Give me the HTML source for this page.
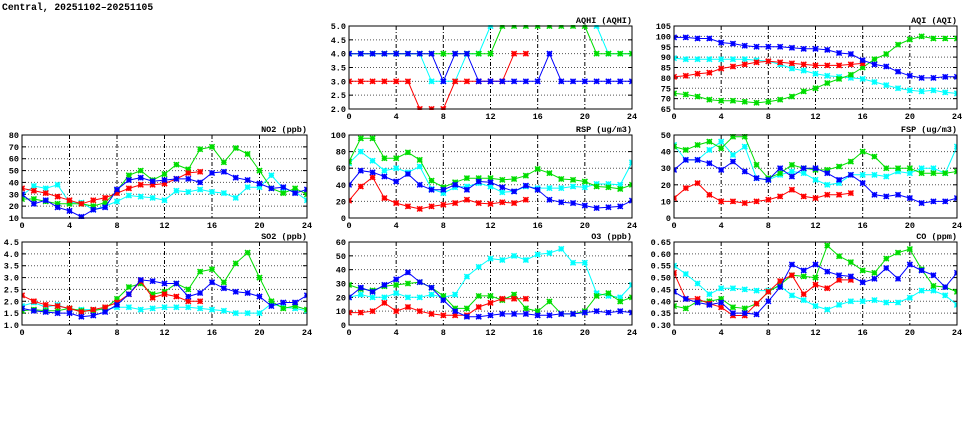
<!DOCTYPE html>
<html><head><meta charset="utf-8">
<style>
html,body{margin:0;padding:0;background:#fff;}
svg{display:block;}
text{font-family:"Liberation Mono",monospace;font-weight:bold;font-size:8.5px;fill:#000;}
</style></head>
<body>
<svg id="s" width="975" height="447" viewBox="0 0 975 447" xmlns="http://www.w3.org/2000/svg">
<text x="2" y="10" style="font-size:9.7px">Central, 20251102–20251105</text>
</svg>
<script>
const S=document.getElementById('s');const NS='http://www.w3.org/2000/svg';
function el(t,a,txt){const e=document.createElementNS(NS,t);for(const k in a)e.setAttribute(k,a[k]);if(txt!==undefined)e.textContent=txt;S.appendChild(e);return e;}
const cols=[[22,307],[349,632],[674,957]],rows=[[26,109],[135,218],[242,325]];
const C={c:'#00ffff',g:'#00dd00',r:'#ff0000',b:'#0000ff'};
const P=[
{col:1,row:0,t:'AQHI (AQHI)',min:2,max:5,step:.5,dec:1,
 c:[4,4,4,4,4,4,4,3,3,3,4,4,5,6,6,6,6,6,6,6,6,5,4,4,4],
 g:[4,4,4,4,4,4,4,4,4,4,4,4,4,5,5,5,5,5,5,5,5,4,4,4,4],
 r:[3,3,3,3,3,3,2,2,2,3,3,3,3,3,4,4],
 b:[4,4,4,4,4,4,4,4,3,4,4,3,3,3,3,3,3,4,3,3,3,3,3,3,3]},
{col:2,row:0,t:'AQI (AQI)',min:65,max:105,step:5,dec:0,
 c:[89.5,89,89,89,89,89,89,88.5,88,86.5,84.5,83.5,82,81,80.5,80,79.5,78,76.5,75,74,73.5,74,73,72.5],
 g:[72.5,72,71,69.5,69,69,68.5,68,68.5,69.5,71,73.5,75,77.5,79.5,81.5,85,89,91.5,96,98.5,100,99,99,99],
 r:[80.5,81,82,82.5,84.5,85.5,86.5,87.5,88,87.5,87,86.5,86,86,86,86.5,87],
 b:[99.5,99.5,99,99,97,96.5,95.5,95,95,95,94.5,94,94,93.5,92,91.5,88.5,86.5,85.5,83,81,80,80,80.5,80.5]},
{col:0,row:1,t:'NO2 (ppb)',min:10,max:80,step:10,dec:0,
 c:[29,37,35,38,23,23,17,20,24,29,28,27,25,33,32,34,32,31,27,36,36,46,35,32,25],
 g:[26,26,24,22,22,22,20,23,33,46,50,42,47,55,51,68,70,57,69,64,50,35,31,35,30],
 r:[35,33,31,28,25,22,25,27,31,35,38,38,39,43,48,49],
 b:[30,22,25,19,16,11,17,19,34,42,44,41,42,43,43,40,48,49,44,42,39,35,36,31,34]},
{col:1,row:1,t:'RSP (ug/m3)',min:0,max:100,step:20,dec:0,
 c:[66,80,69,57,60,55,62,35,30,37,38,42,38,31,32,38,36,36,36,38,37,41,41,40,67],
 g:[68,96,96,72,72,79,70,45,37,43,48,48,48,46,47,51,59,54,47,46,44,38,37,35,40],
 r:[21,38,49,24,18,14,11,14,16,18,22,18,17,19,18,22],
 b:[40,57,55,50,44,53,40,34,34,40,34,44,43,37,32,39,34,22,19,18,15,12,13,14,21]},
{col:2,row:1,t:'FSP (ug/m3)',min:0,max:50,step:10,dec:0,
 c:[44,35,35,41,46,38,43,24,23,26,28,27,23,20,21,26,26,26,25,28,27,30,30,27,43],
 g:[43,41,44,46,42,49,49,32,24,27,32,30,29,29,31,34,40,37,30,30,30,27,27,27,28],
 r:[12,18,21,14,10,10,9,10,11,13,17,13,12,14,14,15],
 b:[29,35,35,33,29,34,28,24,23,30,25,30,30,27,23,26,21,14,13,14,12,9,10,10,12]},
{col:0,row:2,t:'SO2 (ppb)',min:1,max:4.5,step:.5,dec:1,
 c:[1.8,1.95,1.75,1.85,1.65,1.65,1.65,1.65,1.75,1.75,1.65,1.7,1.75,1.75,1.75,1.7,1.65,1.6,1.5,1.5,1.5,1.9,1.75,1.7,1.6],
 g:[1.6,1.65,1.6,1.6,1.7,1.6,1.6,1.7,2.1,2.6,2.75,2.3,2.4,2.75,2.5,3.25,3.35,2.8,3.6,4.05,3.0,2.0,1.7,1.8,1.65],
 r:[2.25,2.0,1.85,1.8,1.7,1.55,1.65,1.75,1.95,2.3,2.85,2.15,2.3,2.2,2.0,2.0],
 b:[1.7,1.6,1.55,1.5,1.5,1.35,1.4,1.55,1.85,2.3,2.9,2.85,2.75,2.75,2.2,2.35,2.8,2.55,2.4,2.35,2.2,1.8,1.95,1.95,2.25]},
{col:1,row:2,t:'O3 (ppb)',min:0,max:60,step:10,dec:0,
 c:[20,22,20,20,23,20,20,22,20,22,35,42,48,47,50,47,51,52,55,45,45,23,21,20,29],
 g:[29,26,25,28,29,30,31,27,21,12,12,21,21,18,22,12,10,17,8,8,10,21,23,17,20],
 r:[9,9,10,16,10,13,10,8,7,7,7,13,16,19,19,19],
 b:[20,27,24,29,33,38,31,27,18,10,6,6,7,8,8,8,7,7,8,8,9,10,9,10,9]},
{col:2,row:2,t:'CO (ppm)',min:.3,max:.65,step:.05,dec:2,
 c:[.55,.515,.475,.43,.455,.455,.45,.445,.445,.465,.425,.405,.38,.365,.385,.40,.40,.405,.395,.395,.415,.445,.445,.425,.385],
 g:[.38,.37,.40,.40,.41,.375,.37,.39,.44,.47,.51,.505,.50,.635,.59,.565,.53,.52,.58,.605,.62,.535,.465,.46,.44],
 r:[.52,.41,.41,.39,.375,.34,.34,.39,.44,.485,.51,.43,.47,.455,.49,.49],
 b:[.44,.41,.395,.385,.395,.35,.35,.345,.40,.46,.555,.53,.555,.525,.51,.505,.48,.495,.54,.495,.555,.53,.51,.46,.52]}
];
P.forEach((p,i)=>{
 const [x0,x1]=cols[p.col],[y0,y1]=rows[p.row];
 const X=h=>x0+(x1-x0)*h/24, Y=v=>y1-(y1-y0)*(v-p.min)/(p.max-p.min);
 const n=Math.round((p.max-p.min)/p.step);
 for(let k=0;k<=n;k++){const v=p.min+k*p.step,y=Y(v);
  if(k>0&&k<n)el('line',{x1:x0,x2:x1,y1:y,y2:y,stroke:'#555','stroke-width':1,'stroke-dasharray':'1,2'});
  el('line',{x1:x0,x2:x0+4,y1:y,y2:y,stroke:'#000'});el('line',{x1:x1-4,x2:x1,y1:y,y2:y,stroke:'#000'});
  el('text',{x:x0-3,y:y+3,'text-anchor':'end'},v.toFixed(p.dec));}
 for(let h=0;h<=24;h+=4){const x=X(h);
  if(h>0&&h<24)el('line',{x1:x,x2:x,y1:y0,y2:y1,stroke:'#000','stroke-width':1,'stroke-dasharray':'4,2,1,2'});
  el('text',{x:x,y:y1+10,'text-anchor':'middle'},h);}
 el('text',{x:x1,y:y0-3,'text-anchor':'end'},p.t);
 const cid='cp'+i;const cp=el('clipPath',{id:cid});const r=document.createElementNS(NS,'rect');
 r.setAttribute('x',x0);r.setAttribute('y',y0-1);r.setAttribute('width',x1-x0);r.setAttribute('height',y1-y0+2);cp.appendChild(r);
 ['c','g','r','b'].forEach(s=>{const d=p[s];const g=el('g',{'clip-path':'url(#'+cid+')',stroke:C[s],'stroke-width':1,fill:'none'});
  const pts=d.map((v,h)=>X(h).toFixed(1)+','+Y(v).toFixed(1)).join(' ');
  const pl=document.createElementNS(NS,'polyline');pl.setAttribute('points',pts);g.appendChild(pl);
  const m=document.createElementNS(NS,'path');let dd='';
  d.forEach((v,h)=>{const x=X(h),y=Y(v),a=2.6;dd+=`M${x-a},${y-a}L${x+a},${y+a}M${x-a},${y+a}L${x+a},${y-a}M${x-a},${y}L${x+a},${y}M${x},${y-a}L${x},${y+a}`;});
  m.setAttribute('d',dd);m.setAttribute('stroke-width',1.5);g.appendChild(m);});
 el('rect',{x:x0,y:y0,width:x1-x0,height:y1-y0,fill:'none',stroke:'#000','stroke-width':1});
});
</script>
</body></html>
